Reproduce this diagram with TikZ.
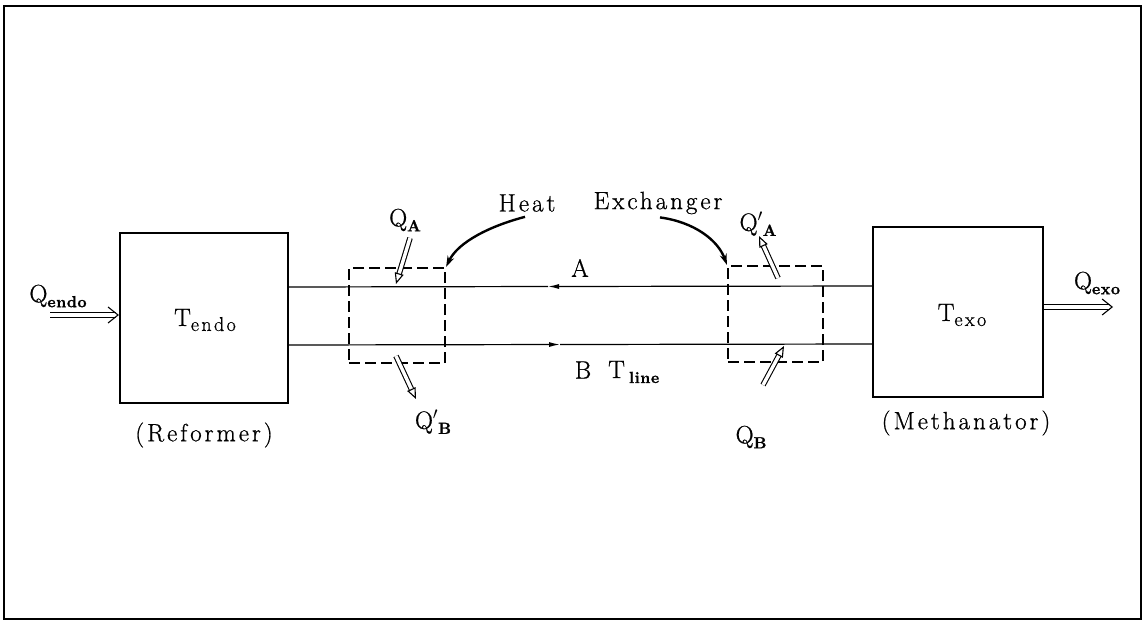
\documentclass[tikz,border=0pt]{standalone}
\usepackage{fontspec}
\setmainfont{Latin Modern Roman}
\newfontfamily\lsp{Latin Modern Roman}[LetterSpace=12,FakeBold=0.8]
\newfontfamily\lspb{Latin Modern Roman}[LetterSpace=4,FakeBold=1.5]
\usetikzlibrary{arrows.meta,calc}
\newcommand{\subbf}[1]{\raisebox{-5pt}{\fontsize{16}{16}\lspb\bfseries #1}}
\newcommand{\subsp}[1]{\raisebox{-5pt}{\fontsize{20}{20}\lsp #1}}
% double shaft + separate tip: #1 start, #2 end, #3 tip, #4 shaft shortening
\newcommand{\heatarrow}[4]{%
  \draw[shaft,shorten >=#4] (#1) -- (#2);
  \draw[tipline,-{#3}] ($(#2)!14pt!(#1)$) -- (#2);}
\begin{document}
\begin{tikzpicture}[x=1pt,y=-1pt,
  lbl/.style={inner sep=0pt,font=\fontsize{25}{28}\lsp},
  unit/.style={draw,line width=2.2pt,inner sep=0pt},
  hx/.style={draw,line width=2.2pt,dash pattern=on 11pt off 5pt,inner sep=0pt},
  flow/.style={line width=1.2pt},
  shaft/.style={double,double distance=3.4pt,line width=1.1pt},
  tipline/.style={draw=white,line width=1.1pt},
  pointer/.style={line width=2.4pt,-{Stealth[length=11pt,width=7pt]}}]
\useasboundingbox (0,0) rectangle (1148,625);
\draw[line width=1.6pt] (4,6) rectangle (1141,619);
% units
\node[unit,minimum width=168pt,minimum height=170pt] (ref) at (204,318) {};
\node[unit,minimum width=170pt,minimum height=170pt] (meth) at (958,312) {};
\node[lbl] (tendo) at (205,320) {T\subsp{endo}};
\node[lbl] (texo) at (962,315) {T\subsp{exo}};
\node[lbl] (reflbl) at (204,435) {(Reformer)};
\node[lbl] (methlbl) at (966,423) {(Methanator)};
% heat exchangers
\node[hx,minimum width=96pt,minimum height=95pt] (hxl) at (397,315.5) {};
\node[hx,minimum width=95pt,minimum height=96pt] (hxr) at (775.5,314) {};
% lines A and B
\coordinate (aR) at (meth.west |- 0,286);
\coordinate (aL) at (ref.east |- 0,287);
\coordinate (aM) at (548,286.5);
\coordinate (bL) at (ref.east |- 0,345);
\coordinate (bR) at (meth.west |- 0,344);
\coordinate (bM) at (560,344.5);
\draw[flow,-{Latex[length=11pt,width=5pt]}] (aR) -- (aM);
\draw[flow] (aM) -- (aL);
\draw[flow,-{Latex[length=11pt,width=5pt]}] (bL) -- (bM);
\draw[flow] (bM) -- (bR);
\node[lbl] (A) at (580,268) {A};
\node[lbl] (B) at (583,370) {B};
\node[lbl,anchor=west] (tline) at (608,372) {T\,\subbf{line}};
% labels heat exchanger
\node[lbl] (heatlbl) at (527,203) {Heat};
\node[lbl] (exlbl) at (658,203) {Exchanger};
\draw[pointer] (heatlbl.south) ++(-2,5) coordinate (hs) .. controls (490,226) and (458,242) .. (hxl.north east);
\draw[pointer] (exlbl.south) ++(2,3) coordinate (es) .. controls (694,222) and (718,240) .. (hxr.north west);
% heat flows
\node[lbl] (qendo) at (58,296) {Q\subbf{endo}};
\coordinate (qendoS) at (50,315);
\coordinate (qendoE) at (ref.west |- qendoS);
\heatarrow{qendoS}{qendoE}{Straight Barb[length=10pt,width=16pt,color=black]}{3pt}
\node[lbl] (qexo) at (1097,283) {Q\subbf{exo}};
\coordinate (qexoS) at (meth.east |- 0,307);
\coordinate (qexoE) at (1113,307);
\heatarrow{qexoS}{qexoE}{Straight Barb[length=10pt,width=16pt,color=black]}{3pt}
\node[lbl] (qa) at (405,220) {Q\subbf{A}};
\coordinate (qaS) at (410,238);
\coordinate (qaE) at (396,284);
\heatarrow{qaS}{qaE}{Triangle[length=11pt,width=9pt,color=black,fill=white]}{10.5pt}
\node[lbl] (qb2) at (433,422) {Q$'$\subbf{B}};
\coordinate (qb2S) at (396,356);
\coordinate (qb2E) at (416,399);
\heatarrow{qb2S}{qb2E}{Triangle[length=11pt,width=9pt,color=black,fill=white]}{10.5pt}
\node[lbl] (qa2) at (758,224) {Q$'$\subbf{A}};
\coordinate (qa2S) at (778,278);
\coordinate (qa2E) at (759,236);
\heatarrow{qa2S}{qa2E}{Triangle[length=11pt,width=9pt,color=black,fill=white]}{10.5pt}
\node[lbl] (qb) at (751,437) {Q\subbf{B}};
\coordinate (qbS) at (763,385);
\coordinate (qbE) at (784,346);
\heatarrow{qbS}{qbE}{Triangle[length=11pt,width=9pt,color=black,fill=white]}{10.5pt}
\end{tikzpicture}
\end{document}
